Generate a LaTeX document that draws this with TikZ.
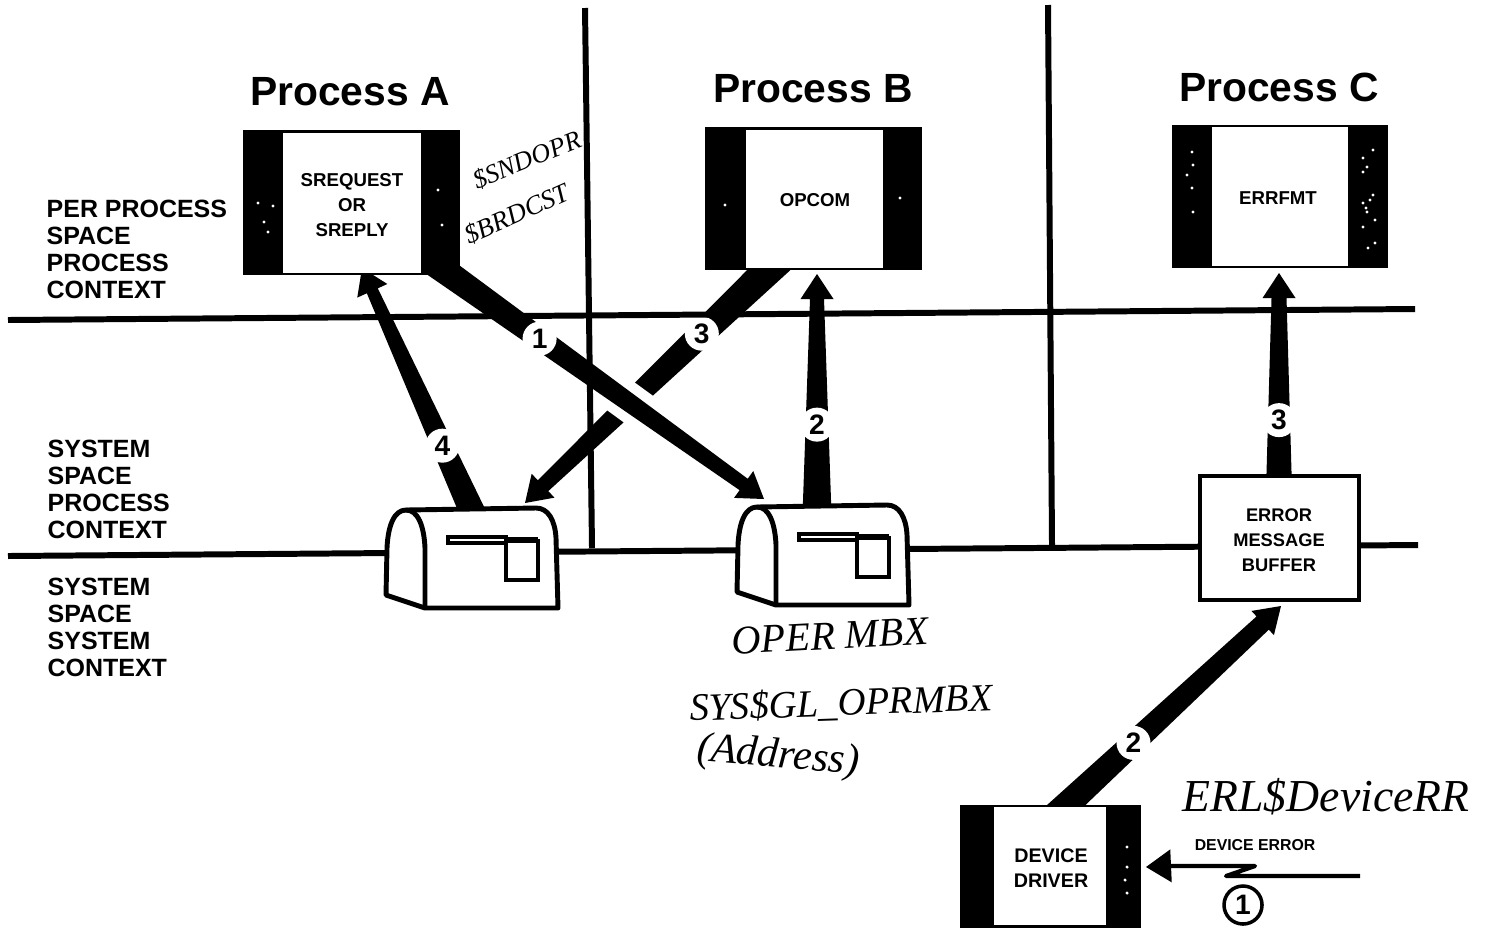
\documentclass[tikz,border=0pt]{standalone}
\usepackage{fontspec}
\setmainfont{Liberation Sans}
\newfontfamily\penfont{Liberation Serif}
\usetikzlibrary{calc}
\tikzset{
  mailbox/.pic={
    \draw[line width=1.4pt, fill=white, line join=round] (0,87) -- (39,100) -- (172,100) -- (170,30)
      .. controls (169,12) and (162,0) .. (150,0) -- (20,2)
      .. controls (8,2) and (2,18) .. (1,40) -- cycle;
    \draw[line width=1.4pt] (20,2) .. controls (32,2) and (38,18) .. (39,40) -- (39,100);
    \draw[line width=2.6pt] (60,32) -- (122,32);
    \draw[white, line width=0.3pt] (64,32) -- (118,32);
    \draw[line width=1.2pt] (120,33) rectangle (152,72);
    \draw[line width=1.8pt] (120,32) -- (152,32);
  }
}
% tapered arrow: base, tip, half width at base, half width at neck
\newcommand{\flowarrow}[4]{%
  \coordinate (neck) at ($(#2)!0.25cm!(#1)$);
  \fill ($(#1)!#3!90:(#2)$) -- ($(neck)!#4!90:(#2)$) -- ($(neck)!0.165cm!90:(#2)$) -- (#2)
    -- ($(neck)!0.165cm!-90:(#2)$) -- ($(neck)!#4!-90:(#2)$) -- ($(#1)!#3!-90:(#2)$) -- cycle;
}
\begin{document}
\begin{tikzpicture}[x=0.01cm, y=-0.01cm, line cap=butt,
    rule/.style={line width=1.7pt},
    title/.style={font=\fontsize{11.6}{13}\selectfont\bfseries},
    side/.style={font=\fontsize{7.1}{7.7}\selectfont\bfseries, align=left, anchor=north west, inner sep=0pt},
    procbar/.style={fill=black, inner sep=0pt},
    procin/.style={fill=white, inner sep=0pt},
    proctxt/.style={inner sep=0pt, align=center, font=\fontsize{5.3}{7}\selectfont\bfseries},
    msgbox/.style={draw, fill=white, line width=1.1pt, inner sep=0pt},
    numlbl/.style={circle, fill=white, inner sep=0pt, minimum size=0.34cm, font=\fontsize{8}{8}\selectfont\bfseries},
    speck/.style={fill=white},
    pen/.style={font=\penfont\itshape, inner sep=0pt}]
  \useasboundingbox (0,0) rectangle (1486,930);
  % arrow ends
  \coordinate (outA) at (424,256);
  \coordinate (outB) at (785,254);
  \coordinate (tipA) at (525,503);
  \coordinate (tipB) at (764,499);
  \coordinate (baseA) at (476,520);
  \coordinate (baseB) at (817,515);
  \coordinate (inA) at (362,268);
  \coordinate (inB) at (817,274);
  \coordinate (inC) at (1279,273);
  \coordinate (outBuf) at (1279,490);
  \coordinate (inBuf) at (1281,606);
  \coordinate (outDrv) at (1045,825);
  \coordinate (crossT) at (608,387);
  \coordinate (crossB) at (652,419);
  % the crossing pair, then the others
  \flowarrow{outB}{tipA}{0.155cm}{0.075cm}
  \draw[white, line width=11pt] (crossT) -- (crossB);
  \flowarrow{outA}{tipB}{0.135cm}{0.07cm}
  \flowarrow{baseA}{inA}{0.13cm}{0.06cm}
  \flowarrow{baseB}{inB}{0.145cm}{0.07cm}
  \flowarrow{outBuf}{inC}{0.13cm}{0.075cm}
  \flowarrow{outDrv}{inBuf}{0.135cm}{0.09cm}
  \node[numlbl] (lblAB) at ($(outA)!0.34!(tipB)$) {1};
  \node[numlbl] (lblBA) at ($(outB)!0.32!(tipA)$) {3};
  \node[numlbl] (lblAA) at ($(baseA)!0.295!(inA)$) {4};
  \node[numlbl] (lblBB) at ($(baseB)!0.375!(inB)$) {2};
  \node[numlbl] (lblCC) at ($(outBuf)!0.322!(inC)$) {3};
  \node[numlbl] (lblDrv) at ($(outDrv)!0.375!(inBuf)$) {2};
  % frame lines
  \coordinate (ruleAl) at (8,320);
  \coordinate (ruleAr) at (1415,309);
  \coordinate (ruleBl) at (8,556);
  \coordinate (ruleBr) at (1418,545);
  \coordinate (colAt) at (585,8);
  \coordinate (colAb) at (592,548);
  \coordinate (colBt) at (1048,5);
  \coordinate (colBb) at (1052,545);
  \draw[rule] (ruleAl) -- (ruleAr);
  \draw[rule] (ruleBl) -- (ruleBr);
  \draw[rule] (colAt) -- (colAb);
  \draw[rule] (colBt) -- (colBb);
  % titles
  \node[title] (titleA) at (350,92) {Process A};
  \node[title] (titleB) at (813,89) {Process B};
  \node[title] (titleC) at (1279,87) {Process C};
  % left labels
  \node[side] (perproc) at (46,199) {PER PROCESS\\SPACE\\PROCESS\\CONTEXT};
  \node[side] (sysproc) at (47,439) {SYSTEM\\SPACE\\PROCESS\\CONTEXT};
  \node[side] (syssys) at (47,577) {SYSTEM\\SPACE\\SYSTEM\\CONTEXT};
  % process boxes
  \node[procbar, minimum width=2.17cm, minimum height=1.45cm] (procA) at (351.5,202.5) {};
  \node[procin, minimum width=1.38cm, minimum height=1.40cm] (procAin) at (352,203) {};
  \node[proctxt] (procAtxt) at (352,205) {SREQUEST\\OR\\SREPLY};
  \node[procbar, minimum width=2.17cm, minimum height=1.43cm] (procB) at (813.5,198.5) {};
  \node[procin, minimum width=1.37cm, minimum height=1.38cm] (procBin) at (814.5,199) {};
  \node[proctxt] (procBtxt) at (815,200) {OPCOM};
  \node[procbar, minimum width=2.16cm, minimum height=1.43cm] (procC) at (1280,196.5) {};
  \node[procin, minimum width=1.36cm, minimum height=1.39cm] (procCin) at (1280,196.5) {};
  \node[proctxt] (procCtxt) at (1278,198) {ERRFMT};
  \node[procbar, minimum width=1.81cm, minimum height=1.23cm] (driver) at (1050.5,866.5) {};
  \node[procin, minimum width=1.12cm, minimum height=1.18cm] (driverin) at (1050,866) {};
  \node[proctxt, font=\fontsize{5.6}{7.1}\selectfont\bfseries] (drivertxt) at (1051,868) {DEVICE\\DRIVER};
  \node[msgbox, minimum width=1.59cm, minimum height=1.24cm] (errbuf) at (1279.5,538) {};
  \node[proctxt, font=\fontsize{5.2}{7.1}\selectfont\bfseries] (errtxt) at (1279,540) {ERROR\\MESSAGE\\BUFFER};
  % worn spots in the black bars
  \foreach \sx/\sy in {1192/152,1193/165,1187/175,1192/188,1193/212,1373/150,1363/158,1367/167,1363/172,
      1373/195,1363/203,1367/212,1363/227,1375/220,1368/248,1375/243,1370/200,1366/208,
      1127/847,1127/867,1125/880,1127/893,258/203,273/206,264/222,268/232,438/190,442/225,725/205,900/198}
    \fill[speck] (\sx,\sy) circle (1.7);
  % mailboxes
  \pic at (386,508) {mailbox};
  \pic at (737,505) {mailbox};
  % device error
  \coordinate (zapR) at (1360,876);
  \coordinate (zapB) at (1226,876);
  \coordinate (zapT) at (1255,866);
  \coordinate (zapN) at (1168,866);
  \coordinate (zapL) at (1146,867);
  \draw[line width=1.2pt, line join=round] (zapR) -- (zapB) -- (zapT) -- (zapN);
  \flowarrow{zapN}{zapL}{0.02cm}{0.02cm}
  \node[font=\fontsize{4.5}{5}\selectfont\bfseries] (deverr) at (1255,845) {DEVICE ERROR};
  \node[circle, draw, line width=1pt, inner sep=0pt, minimum size=0.38cm, font=\fontsize{8}{8}\selectfont\bfseries] (stepone) at (1243,905) {1};
  % pencil notes
  \node[pen, font=\penfont\itshape\fontsize{7.5}{8}\selectfont, rotate=22] (noteSnd) at (527,160) {\$SNDOPR};
  \node[pen, font=\penfont\itshape\fontsize{7.6}{8}\selectfont, rotate=24] (noteBrd) at (517,214) {\$BRDCST};
  \node[pen, font=\penfont\itshape\fontsize{11.5}{12}\selectfont, rotate=3] (noteOper) at (830,636) {OPER MBX};
  \node[pen, font=\penfont\itshape\fontsize{11}{12}\selectfont, rotate=2] (noteSys) at (841,704) {SYS\$GL\_OPRMBX};
  \node[pen, font=\penfont\itshape\fontsize{12}{13}\selectfont, rotate=-5] (noteAddr) at (778,757) {(Address)};
  \node[pen, font=\penfont\itshape\fontsize{13}{14}\selectfont] (noteErl) at (1326,797) {ERL\$DeviceRR};
\end{tikzpicture}
\end{document}
